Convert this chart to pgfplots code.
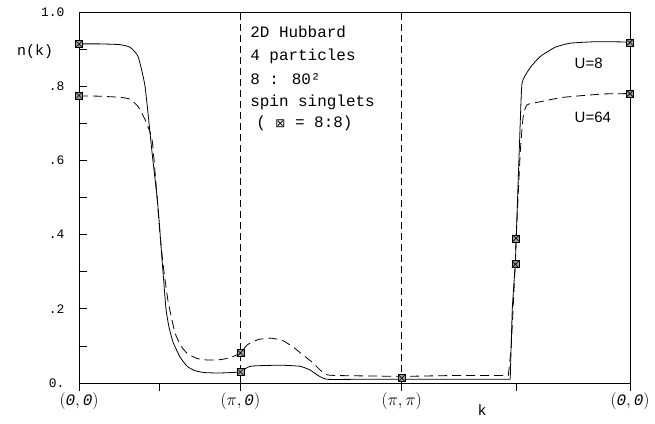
\documentclass[border=0pt]{standalone}
\usepackage{fontspec}
\setmainfont{Liberation Mono}
\newfontfamily\sansf{Liberation Sans}
\newfontfamily\dejavu{DejaVu Sans}
\usepackage{pgfplots}
\pgfplotsset{compat=1.18}
\usetikzlibrary{calc}
\pgfdeclareplotmark{boxx}{%
  \pgfpathrectangle{\pgfqpoint{-\pgfplotmarksize}{-\pgfplotmarksize}}{\pgfqpoint{2\pgfplotmarksize}{2\pgfplotmarksize}}%
  \pgfusepathqfillstroke
  \pgfpathmoveto{\pgfqpoint{-\pgfplotmarksize}{-\pgfplotmarksize}}\pgfpathlineto{\pgfqpoint{\pgfplotmarksize}{\pgfplotmarksize}}%
  \pgfpathmoveto{\pgfqpoint{-\pgfplotmarksize}{\pgfplotmarksize}}\pgfpathlineto{\pgfqpoint{\pgfplotmarksize}{-\pgfplotmarksize}}%
  \pgfusepathqstroke}
\begin{document}
\begin{tikzpicture}
\begin{axis}[
  scale only axis, width=551bp, height=371bp,
  xmin=0, xmax=3.41421, ymin=0, ymax=1,
  axis line style={line width=0.7bp},
  tick pos=left,
  xtick={0,0.5,1,2,2.70711,3.41421},
  xticklabels={{$(\mathit{0,0})$},{},{$(\pi,\mathit{0})$},{$(\pi,\pi)$},{},{$(\mathit{0,0})$}},
  ytick={0,0.1,0.2,0.3,0.4,0.5,0.6,0.7,0.8,0.9,1},
  yticklabels={0.,,.2,,.4,,.6,,.8,,1.0},
  major tick length=8bp,
  tick align=inside,
  tick style={line width=0.7bp, black},
  x tick style={yshift=-8bp},
  xticklabel style={font=\fontsize{16}{16}\selectfont, yshift=-6bp},
  yticklabel style={font=\fontsize{13}{13}\selectfont, xshift=-11bp},
  clip=false,
]
\coordinate (ll) at (rel axis cs:0,0);
\coordinate (ur) at (rel axis cs:1,1);
% vertical dashed lines
\addplot[black, line width=0.7bp, dash pattern=on 7bp off 4bp] coordinates {(1,0) (1,1)};
\addplot[black, line width=0.7bp, dash pattern=on 7bp off 4bp] coordinates {(2,0) (2,1)};
% U=8 solid
\addplot[black, line width=0.8bp, smooth, tension=0.3] coordinates {
(0,0.914) (0.130,0.914) (0.254,0.912) (0.316,0.905) (0.366,0.88) (0.409,0.80)
(0.453,0.62) (0.484,0.50) (0.496,0.44) (0.515,0.33) (0.539,0.20) (0.558,0.15)
(0.583,0.11) (0.626,0.07) (0.670,0.045) (0.719,0.033) (0.781,0.028) (0.874,0.027)
(1.0,0.03) (1.043,0.042) (1.079,0.046) (1.246,0.048) (1.370,0.045) (1.432,0.035)
(1.482,0.02) (1.538,0.01) (1.742,0.01) (2.0,0.01) (2.30,0.01) (2.672,0.01)};
\addplot[black, line width=0.8bp, smooth, tension=0.3] coordinates {
(2.672,0.01) (2.685,0.2) (2.703,0.32) (2.709,0.39) (2.734,0.70) (2.746,0.81)
(2.796,0.85) (2.858,0.88) (2.951,0.905) (3.044,0.916) (3.211,0.92) (3.414,0.919)};
% U=64 dashed
\addplot[black, line width=0.8bp, dash pattern=on 9bp off 5bp, smooth, tension=0.3] coordinates {
(0,0.774) (0.130,0.773) (0.254,0.77) (0.316,0.765) (0.366,0.745) (0.409,0.71)
(0.453,0.655) (0.484,0.50) (0.502,0.40) (0.521,0.32) (0.552,0.22) (0.595,0.135)
(0.632,0.10) (0.670,0.08) (0.732,0.066) (0.794,0.062) (0.874,0.063) (0.936,0.068)
(1.0,0.081) (1.043,0.103) (1.11,0.117) (1.184,0.121) (1.259,0.115) (1.327,0.097)
(1.389,0.075) (1.451,0.054) (1.494,0.035) (1.538,0.022) (1.618,0.02) (2.0,0.018)
(2.30,0.02) (2.66,0.02)};
\addplot[black, line width=0.8bp, dash pattern=on 9bp off 5bp, smooth, tension=0.3] coordinates {
(2.66,0.02) (2.678,0.10) (2.703,0.32) (2.709,0.39) (2.734,0.62) (2.753,0.72)
(2.777,0.75) (2.858,0.758) (3.0,0.77) (3.249,0.779) (3.414,0.78)};
% exact data markers
\addplot[only marks, mark=boxx, mark size=3.5bp, mark options={draw=black, fill=gray!75, line width=0.6bp}] coordinates {
(0,0.913) (0,0.775) (1,0.03) (1,0.081) (2,0.013) (2.704,0.32) (2.708,0.39) (3.414,0.918) (3.414,0.78)};
% labels
\node[anchor=west, font=\fontsize{15}{15}\selectfont] at (axis cs:-0.405,0.892) {n(k)};
\node[font=\sansf\fontsize{15}{15}\selectfont] at (axis cs:2.498,-0.073) {k};
\node[anchor=west, font=\sansf\fontsize{15}{15}\selectfont] at (axis cs:3.05,0.862) {U=8};
\node[anchor=west, font=\sansf\fontsize{15}{15}\selectfont] at (axis cs:3.05,0.717) {U=64};
\node[anchor=west, font=\fontsize{16}{16}\selectfont] at (axis cs:1.04,0.946) {2D Hubbard};
\node[anchor=west, font=\fontsize{16}{16}\selectfont] at (axis cs:1.04,0.881) {4 particles};
\node[anchor=west, font=\fontsize{16}{16}\selectfont] at (axis cs:1.04,0.818) {8 : 80²};
\node[anchor=west, font=\fontsize{16}{16}\selectfont] at (axis cs:1.04,0.757) {spin singlets};
\node[anchor=west, font=\fontsize{16}{16}\selectfont] at (axis cs:1.04,0.700) {\hspace{6bp}( {\dejavu\fontsize{12}{12}\selectfont ⊠} = 8:8)};
\end{axis}
\pgfresetboundingbox
\path[use as bounding box] ($(ll)+(-79bp,-41bp)$) rectangle ($(ur)+(25bp,12bp)$);
\end{tikzpicture}
\end{document}
